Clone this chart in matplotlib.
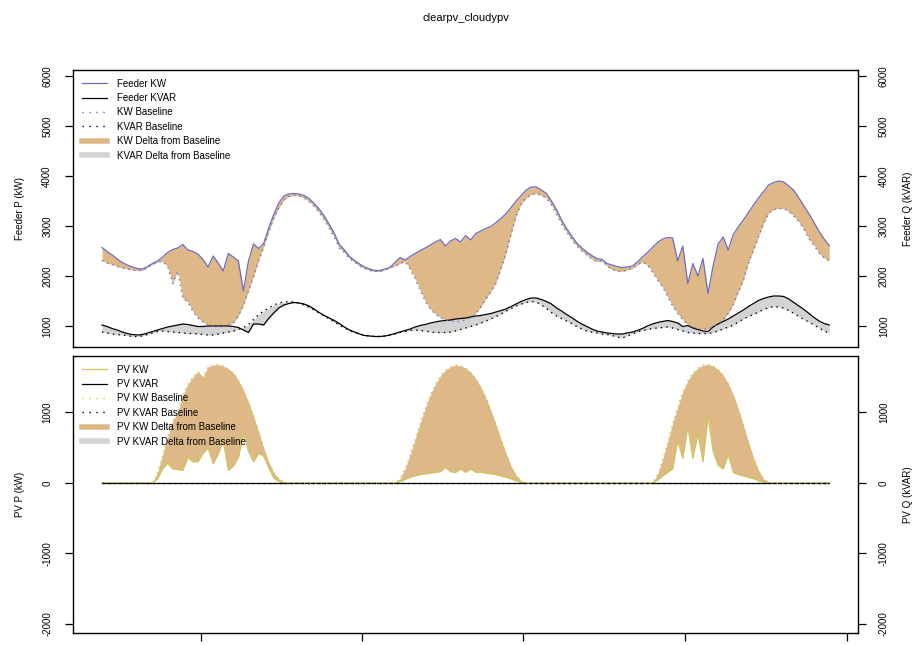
import numpy as np
import matplotlib
matplotlib.use("Agg")
import matplotlib.pyplot as plt
from matplotlib.lines import Line2D

plt.rcParams['font.family'] = ['Liberation Sans', 'DejaVu Sans']
plt.rcParams['axes.unicode_minus'] = False

# time in hours, half-hour steps over three days
hours = np.arange(0, 72.5, 0.5)

# feeder real power (kW), cloudy pv case
feeder_kw = [
    2570, 2490, 2420, 2340, 2270, 2220, 2180, 2150, 2140, 2190,
    2250, 2300, 2380, 2470, 2530, 2560, 2630, 2520, 2490, 2440,
    2330, 2180, 2400, 2260, 2100, 2450, 2380, 2300, 1700, 2300,
    2640, 2550, 2650, 2960, 3230, 3460, 3600, 3640, 3650, 3640,
    3610, 3550, 3450, 3340, 3200, 3030, 2850, 2630, 2520, 2390,
    2310, 2240, 2180, 2140, 2110, 2110, 2140, 2170, 2270, 2370,
    2320, 2390, 2450, 2510, 2560, 2620, 2680, 2730, 2600, 2700,
    2750, 2680, 2810, 2720, 2850, 2900, 2950, 2990, 3070, 3150,
    3250, 3370, 3500, 3610, 3720, 3780, 3780, 3720, 3650, 3500,
    3330, 3120, 2950, 2800, 2660, 2560, 2480, 2410, 2350, 2330,
    2250, 2220, 2190, 2170, 2180, 2200, 2280, 2380, 2470, 2570,
    2670, 2740, 2770, 2760, 2300, 2600, 1850, 2250, 2000, 2350,
    1650, 2200, 2640, 2780, 2520, 2830, 2980, 3120, 3270, 3420,
    3560, 3690, 3820, 3870, 3900, 3880, 3800, 3710, 3560, 3400,
    3240, 3070, 2890, 2740, 2610]

# feeder real power baseline (clear pv)
base_kw = [
    2310, 2260, 2230, 2190, 2160, 2140, 2120, 2110, 2110, 2170,
    2230, 2280, 2290, 2190, 1850, 2100, 1560, 1480, 1290, 1160,
    1080, 1020, 1000, 990, 1000, 1010, 1060, 1200, 1420, 1700,
    1990, 2300, 2580, 2880, 3150, 3360, 3520, 3590, 3610, 3600,
    3560, 3490, 3390, 3270, 3130, 2950, 2770, 2560, 2470, 2350,
    2280, 2200, 2150, 2110, 2090, 2090, 2120, 2160, 2200, 2250,
    2290, 2140, 1950, 1720, 1500, 1340, 1240, 1170, 1120, 1100,
    1090, 1090, 1130, 1170, 1250, 1380, 1540, 1690, 1860, 2150,
    2450, 2840, 3200, 3440, 3560, 3630, 3650, 3610, 3560, 3420,
    3240, 3040, 2880, 2730, 2600, 2500, 2420, 2340, 2290, 2300,
    2200, 2130, 2100, 2090, 2120, 2150, 2220, 2280, 2220, 2080,
    1920, 1780, 1590, 1400, 1250, 1130, 1020, 980, 950, 930,
    940, 980, 1050, 1120, 1250, 1440, 1680, 1920, 2260, 2520,
    2790, 3050, 3260, 3330, 3350, 3350, 3290, 3200, 3090, 2930,
    2740, 2610, 2460, 2360, 2300]

# feeder reactive power (kVAR)
feeder_kvar = [
    1020, 990, 950, 920, 880, 850, 830, 820, 830, 860,
    890, 920, 950, 980, 1000, 1020, 1040, 1030, 1010, 990,
    990, 1000, 1000, 1000, 1000, 1000, 990, 970, 920, 870,
    1040, 1040, 1020, 1150, 1260, 1360, 1420, 1450, 1470, 1460,
    1440, 1400, 1340, 1270, 1210, 1160, 1110, 1050, 980, 920,
    880, 840, 810, 800, 790, 790, 800, 820, 850, 880,
    910, 940, 980, 1010, 1030, 1060, 1080, 1100, 1110, 1120,
    1140, 1150, 1160, 1180, 1200, 1210, 1230, 1250, 1280, 1310,
    1340, 1390, 1440, 1490, 1530, 1560, 1560, 1530, 1490, 1440,
    1360, 1300, 1230, 1170, 1100, 1040, 990, 940, 900, 880,
    860, 850, 840, 840, 860, 880, 910, 950, 1000, 1040,
    1070, 1090, 1110, 1090, 1060, 990, 1010, 960, 930, 900,
    890, 980, 1040, 1090, 1140, 1200, 1260, 1320, 1390, 1450,
    1510, 1550, 1580, 1600, 1600, 1590, 1540, 1470, 1400, 1330,
    1250, 1170, 1100, 1050, 1020]

base_kvar = [
    880, 860, 840, 830, 820, 810, 790, 790, 800, 830,
    860, 890, 900, 890, 880, 870, 860, 850, 850, 840,
    830, 820, 820, 840, 860, 880, 900, 930, 970, 1030,
    1130, 1230, 1300, 1360, 1420, 1460, 1480, 1490, 1480, 1460,
    1420, 1370, 1320, 1260, 1200, 1140, 1080, 1020, 960, 910,
    870, 840, 810, 800, 790, 790, 800, 820, 840, 870,
    890, 910, 920, 910, 900, 880, 870, 870, 870, 880,
    900, 930, 960, 990, 1020, 1060, 1100, 1140, 1190, 1240,
    1300, 1350, 1400, 1440, 1470, 1490, 1480, 1420, 1350, 1270,
    1200, 1150, 1100, 1050, 990, 940, 900, 880, 860, 840,
    830, 810, 780, 760, 800, 840, 880, 910, 930, 950,
    960, 970, 980, 960, 930, 900, 870, 860, 850, 850,
    850, 870, 900, 940, 980, 1020, 1080, 1140, 1190, 1230,
    1280, 1330, 1370, 1390, 1380, 1360, 1310, 1250, 1190, 1130,
    1080, 1020, 960, 900, 860]

# pv output (kW)
pv_kw = [
    0, 0, 0, 0, 0, 0, 0, 0, 0, 0,
    0, 60, 200, 280, 200, 190, 180, 360, 300, 300,
    420, 500, 270, 410, 600, 180, 240, 360, 700, 450,
    300, 420, 380, 220, 70, 20, 0, 0, 0, 0,
    0, 0, 0, 0, 0, 0, 0, 0, 0, 0,
    0, 0, 0, 0, 0, 0, 0, 0, 0, 20,
    50, 80, 100, 120, 130, 140, 150, 160, 220, 160,
    150, 200, 150, 200, 150, 150, 140, 130, 120, 100,
    80, 60, 30, 10, 0, 0, 0, 0, 0, 0,
    0, 0, 0, 0, 0, 0, 0, 0, 0, 0,
    0, 0, 0, 0, 0, 0, 0, 0, 0, 0,
    40, 100, 150, 200, 600, 350, 800, 350, 700, 300,
    950, 450, 250, 200, 400, 150, 120, 100, 80, 60,
    30, 10, 0, 0, 0, 0, 0, 0, 0, 0,
    0, 0, 0, 0, 0]

pv_base_kw = [
    0, 0, 0, 0, 0, 0, 0, 0, 0, 0,
    0, 150, 400, 650, 880, 1000, 1250, 1400, 1500, 1580,
    1500, 1650, 1670, 1680, 1660, 1620, 1560, 1460, 1320, 1150,
    950, 730, 500, 300, 150, 60, 10, 0, 0, 0,
    0, 0, 0, 0, 0, 0, 0, 0, 0, 0,
    0, 0, 0, 0, 0, 0, 0, 0, 0, 60,
    200, 400, 620, 850, 1060, 1250, 1400, 1520, 1600, 1650,
    1670, 1660, 1630, 1570, 1480, 1360, 1210, 1030, 830, 620,
    420, 240, 110, 30, 0, 0, 0, 0, 0, 0,
    0, 0, 0, 0, 0, 0, 0, 0, 0, 0,
    0, 0, 0, 0, 0, 0, 0, 0, 0, 0,
    120, 330, 580, 850, 1080, 1290, 1450, 1560, 1630, 1670,
    1680, 1660, 1610, 1530, 1410, 1250, 1050, 820, 580, 360,
    180, 60, 10, 0, 0, 0, 0, 0, 0, 0,
    0, 0, 0, 0, 0]

pv_kvar = [0.0] * 145
pv_base_kvar = [0.0] * 145

top_ticks = [1000, 2000, 3000, 4000, 5000, 6000]
bot_ticks = [-2000, -1000, 0, 1000]
x_ticks = [9.8, 25.75, 41.7, 57.7, 73.75]

kw_col = '#6c6cc4'
pv_col = '#cdc65a'
fill_col = '#deb887'
grey_col = '#d3d3d3'
dot = (0, (1, 3))

fig = plt.figure(figsize=(9.21, 6.45), dpi=100)
ax1 = fig.add_axes([0.0793, 0.4620, 0.8523, 0.4295])
ax2 = fig.add_axes([0.0793, 0.0186, 0.8523, 0.4295])

# top panel: feeder
ax1.fill_between(hours, base_kw, feeder_kw, color=fill_col, lw=0)
ax1.fill_between(hours, base_kvar, feeder_kvar, color=grey_col, lw=0)
ax1.plot(hours, feeder_kw, color=kw_col, lw=0.9)
ax1.plot(hours, feeder_kvar, color='black', lw=0.9)
ax1.plot(hours, base_kw, color=kw_col, lw=1, ls=dot)
ax1.plot(hours, base_kvar, color='black', lw=1, ls=dot)
ax1.set_ylim(580, 6120)
ax1.set_yticks(top_ticks)

# bottom panel: pv
ax2.fill_between(hours, pv_kw, pv_base_kw, color=fill_col, lw=0)
ax2.fill_between(hours, pv_kvar, pv_base_kvar, color=grey_col, lw=0)
ax2.plot(hours, pv_kw, color=pv_col, lw=0.9)
ax2.plot(hours, pv_kvar, color='black', lw=0.9)
ax2.plot(hours, pv_base_kw, color=pv_col, lw=1, ls=dot)
ax2.plot(hours, pv_base_kvar, color='black', lw=1, ls=dot)
ax2.set_ylim(-2128, 1801)
ax2.set_yticks(bot_ticks)

for ax in (ax1, ax2):
    ax.set_xlim(-2.87, 74.85)
    for s in ax.spines.values():
        s.set_linewidth(1.0)
    ax.tick_params(axis='y', direction='out', length=6, width=0.9, labelsize=7,
                   pad=9, right=True, labelright=True, labelrotation=90)
    for lab in ax.get_yticklabels():
        lab.set_va('center')

ax1.set_xticks([])
ax2.set_xticks(x_ticks)
ax2.set_xticklabels([''] * len(x_ticks))
ax2.tick_params(axis='x', direction='out', length=6, width=0.9)

def legend_handles(labels, c1):
    return [Line2D([], [], color=c1, lw=0.9, label=labels[0]),
            Line2D([], [], color='black', lw=0.9, label=labels[1]),
            Line2D([], [], color=c1, lw=1, ls=(0, (1, 4)), label=labels[2]),
            Line2D([], [], color='black', lw=1, ls=(0, (1, 4)), label=labels[3]),
            Line2D([], [], color=fill_col, lw=4, label=labels[4]),
            Line2D([], [], color=grey_col, lw=4, label=labels[5])]

top_labels = ['Feeder KW', 'Feeder KVAR', 'KW Baseline', 'KVAR Baseline',
              'KW Delta from Baseline', 'KVAR Delta from Baseline']
bot_labels = ['PV KW', 'PV KVAR', 'PV KW Baseline', 'PV KVAR Baseline',
              'PV KW Delta from Baseline', 'PV KVAR Delta from Baseline']

for ax, labels, c1 in ((ax1, top_labels, kw_col), (ax2, bot_labels, pv_col)):
    ax.legend(handles=legend_handles(labels, c1), loc='upper left',
              bbox_to_anchor=(0, 1), borderaxespad=0, borderpad=0.9,
              frameon=False, fontsize=7, handlelength=2.6,
              handletextpad=1.0, labelspacing=0.45)

fig.text(465.5 / 921, 0.972, 'clearpv_cloudypv', ha='center', va='center', fontsize=8)
fig.text(20 / 921, 0.6767, 'Feeder P (kW)', rotation=90, ha='center', va='center', fontsize=7)
fig.text(908 / 921, 0.6767, 'Feeder Q (kVAR)', rotation=90, ha='center', va='center', fontsize=7)
fig.text(20 / 921, 0.2333, 'PV P (kW)', rotation=90, ha='center', va='center', fontsize=7)
fig.text(908 / 921, 0.2333, 'PV Q (kVAR)', rotation=90, ha='center', va='center', fontsize=7)

fig.savefig('out.png', dpi=100)
